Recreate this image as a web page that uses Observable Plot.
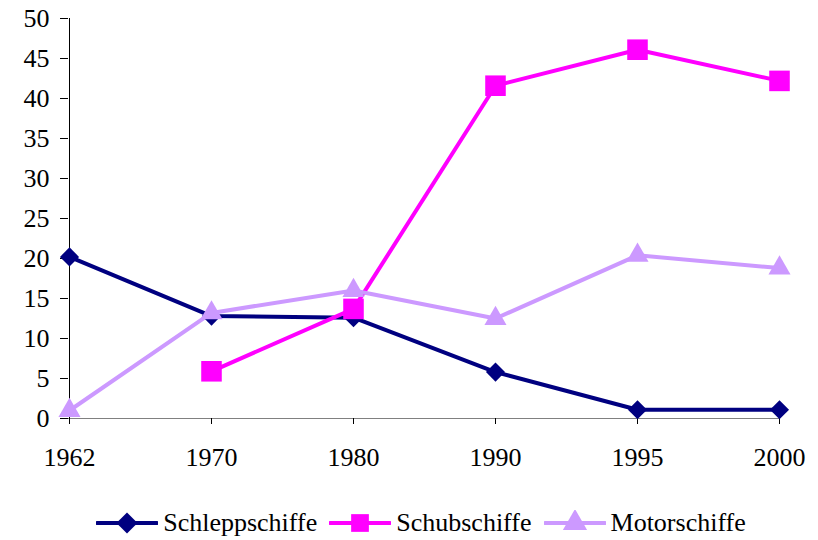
<!DOCTYPE html>
<html>
<head>
<meta charset="utf-8">
<script src="https://cdn.jsdelivr.net/npm/d3@7"></script>
<script src="https://cdn.jsdelivr.net/npm/@observablehq/plot@0.6"></script>
<style>
  body { margin: 0; background: #fff; font-family: "Liberation Serif", "Times New Roman", serif; position: relative; width: 818px; height: 540px; }
  #chart { position: absolute; left: 0; top: 0; }
  #legend { position: absolute; left: 0; top: 506px; width: 818px; box-sizing: border-box; padding-left: 24px; display: flex; justify-content: center; align-items: center; height: 34px; font-size: 26px; color: #000; font-family: "Liberation Serif", "Times New Roman", serif; }
  .item { display: flex; align-items: center; margin: 0 6px; }
  .item svg { margin-right: 5px; }
</style>
</head>
<body>
<div id="chart"></div>
<div id="legend"></div>
<script>
const years = ["1962", "1970", "1980", "1990", "1995", "2000"];
const seriesNames = ["Schleppschiffe", "Schubschiffe", "Motorschiffe"];
const schleppschiffe = [20.2, 12.8, 12.6, 5.8, 1.1, 1.1];
const schubschiffe = [null, 5.9, 13.7, 41.6, 46.1, 42.2];
const motorschiffe = [1.0, 13.2, 16.0, 12.5, 20.4, 18.8];
const yTicks = [0, 5, 10, 15, 20, 25, 30, 35, 40, 45, 50];

const colors = ["#000080", "#FF00FF", "#CC99FF"];
const symbols = ["diamond2", "square", "triangle"];
const radii = [8.6, 11.6, 8.2];
const allValues = [schleppschiffe, schubschiffe, motorschiffe];
const serif = "Liberation Serif";

const data = [];
seriesNames.forEach((s, i) => {
  years.forEach((y, j) => {
    const v = allValues[i][j];
    if (v != null) data.push({series: s, year: y, value: v});
  });
});

const marks = [
  Plot.ruleY([0], {stroke: "#808080", strokeWidth: 1.2}),
  Plot.ruleX([years[0]], {y1: 0, y2: 50, stroke: "#000", strokeWidth: 1}),
  Plot.axisY({ticks: yTicks, tickSize: 8, tickPadding: 11, tickFormat: d => d, fontFamily: serif, fontSize: 26}),
  Plot.axisX({tickSize: 6, tickPadding: 23, fontFamily: serif, fontSize: 26})
];
seriesNames.forEach((s, i) => {
  marks.push(Plot.line(data.filter(d => d.series === s), {x: "year", y: "value", stroke: colors[i], strokeWidth: 4}));
});
seriesNames.forEach((s, i) => {
  marks.push(Plot.dot(data.filter(d => d.series === s), {x: "year", y: "value", fill: colors[i], stroke: "none", symbol: symbols[i], r: radii[i]}));
});

const chart = Plot.plot({
  width: 818,
  height: 480,
  marginLeft: 68,
  marginRight: 39,
  marginTop: 18,
  marginBottom: 62,
  style: {"font-family": serif, "font-size": "26px", "color": "#000", "background": "#fff"},
  x: {type: "point", domain: years, padding: 0, label: null},
  y: {domain: [0, 50], label: null},
  marks
});
d3.select(chart).attr("font-family", serif).attr("font-size", 26);
d3.select(chart).selectAll("text")
  .style("font-family", "'Liberation Serif', 'Times New Roman', serif")
  .style("font-size", "26px")
  .attr("fill", "#000");
document.getElementById("chart").appendChild(chart);

const legend = document.getElementById("legend");
const legendRadii = [9.5, 10, 9];
seriesNames.forEach((s, i) => {
  const item = document.createElement("div");
  item.className = "item";
  const sw = d3.create("svg").attr("width", 62).attr("height", 26);
  sw.append("line").attr("x1", 1).attr("x2", 61).attr("y1", 13).attr("y2", 13)
    .attr("stroke", colors[i]).attr("stroke-width", 4).attr("stroke-linecap", "round");
  const sym = {diamond2: d3.symbolDiamond2, square: d3.symbolSquare, triangle: d3.symbolTriangle}[symbols[i]];
  const size = Math.PI * legendRadii[i] * legendRadii[i];
  sw.append("path").attr("d", d3.symbol(sym, size)()).attr("transform", "translate(31,13)").attr("fill", colors[i]);
  item.appendChild(sw.node());
  const t = document.createElement("span");
  t.textContent = s;
  item.appendChild(t);
  legend.appendChild(item);
});
</script>
</body>
</html>
